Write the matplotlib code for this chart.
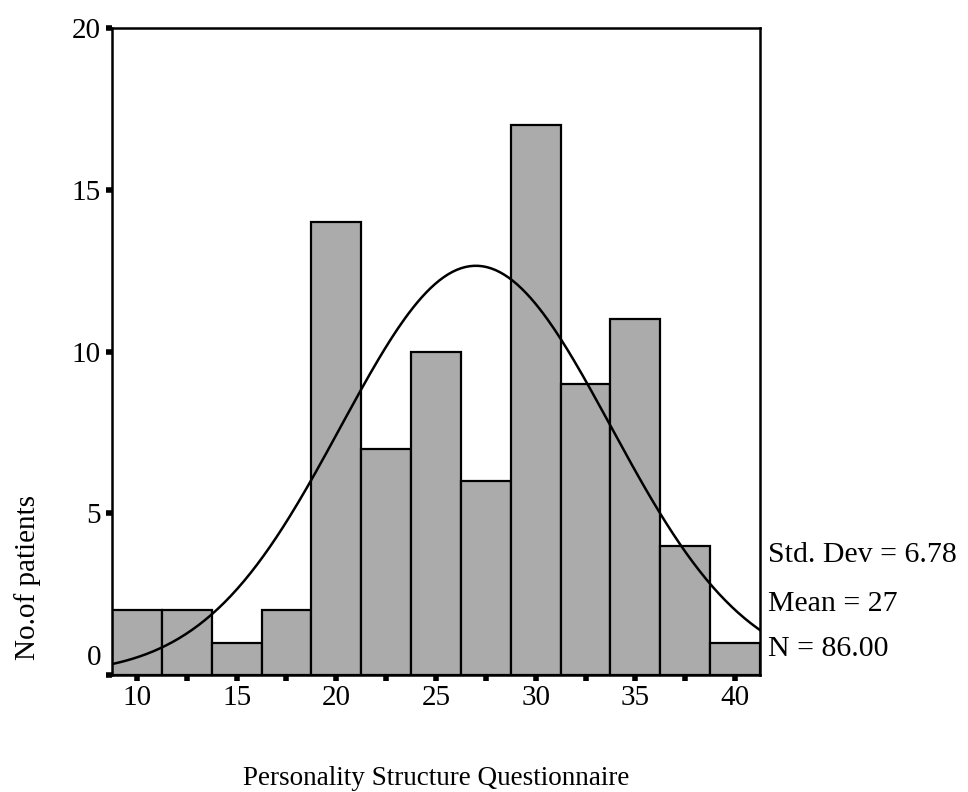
import numpy as np
import matplotlib
matplotlib.use("Agg")
import matplotlib.pyplot as plt
from matplotlib.transforms import ScaledTranslation

# histogram data (bin centres and counts)
bin_centers = [10, 12.5, 15, 17.5, 20, 22.5, 25, 27.5, 30, 32.5, 35, 37.5, 40]
counts = [2, 2, 1, 2, 14, 7, 10, 6, 17, 9, 11, 4, 1]
bin_width = 2.5
std_dev = 6.78
mean = 27
n = 86

plt.rcParams['font.family'] = ['Liberation Serif', 'DejaVu Serif']

fig = plt.figure(figsize=(9.68, 7.92), dpi=100)
ax = fig.add_axes([0.1157, 0.1477, 0.6694, 0.8169])

ax.bar(bin_centers, counts, width=bin_width, color='#ababab',
       edgecolor='black', linewidth=1.6, zorder=2)

# fitted normal curve
xs = np.linspace(8.75, 41.25, 300)
ys = n * bin_width / (std_dev * np.sqrt(2 * np.pi)) * np.exp(-0.5 * ((xs - mean) / std_dev) ** 2)
ax.plot(xs, ys, color='black', linewidth=1.8, zorder=3)

ax.set_xlim(8.75, 41.25)
ax.set_ylim(0, 20)

ax.set_xticks(bin_centers)
ax.set_xticklabels([str(int(c)) if c % 5 == 0 else '' for c in bin_centers])
ax.set_yticks([0, 5, 10, 15, 20])
ax.set_yticklabels(['0', '5', '10', '15', '20'])

ax.tick_params(axis='x', direction='out', length=4, width=4, pad=3, labelsize=21)
ax.tick_params(axis='y', direction='out', length=4, width=4, pad=4, labelsize=21)

# the "0" label sits a bit above the axis in the original
ylabs = ax.get_yticklabels()
ylabs[0].set_transform(ylabs[0].get_transform() + ScaledTranslation(0, 0.2, fig.dpi_scale_trans))

for sp in ax.spines.values():
    sp.set_linewidth(1.8)

ax.set_xlabel('Personality Structure Questionnaire', fontsize=19.5, labelpad=40)
ax.set_ylabel('No.of patients', fontsize=21)
ax.yaxis.set_label_coords(-0.11, 0.15)

stats = ['Std. Dev = 6.78', 'Mean = 27', 'N = 86.00']
stat_y = [0.165, 0.09, 0.02]
for s, yy in zip(stats, stat_y):
    ax.text(1.012, yy, s, transform=ax.transAxes, fontsize=21.5,
            ha='left', va='bottom')

fig.savefig('out.png', dpi=100)
